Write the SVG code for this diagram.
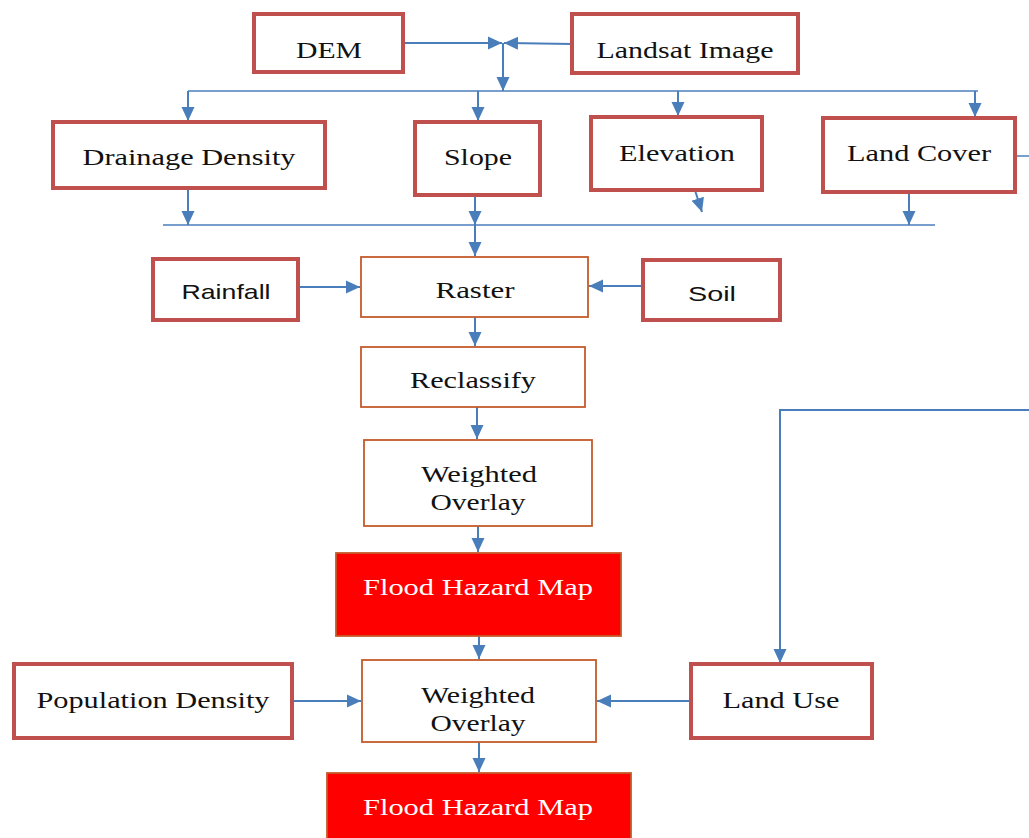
<svg xmlns="http://www.w3.org/2000/svg" width="1029" height="838" viewBox="0 0 1029 838">
<style>
.rb{fill:#fff;stroke:#C0504D;stroke-width:4}
.ob{fill:#fff;stroke:#C55A2B;stroke-width:1.8}
.fb{fill:#FF0000;stroke:#C55A2B;stroke-width:1.8}
.t{font-family:"Liberation Serif","Times New Roman",serif;font-size:24px;fill:#111;text-anchor:middle}
.s{font-family:"Liberation Sans",Arial,sans-serif;font-size:21px;fill:#111;text-anchor:middle}
.w{fill:#fff}
.c{stroke:#4A7EBB;stroke-width:2;fill:none}
.h{stroke:#4A7EBB;stroke-width:1.5;fill:none}
</style>
<defs>
<marker id="a" markerUnits="userSpaceOnUse" markerWidth="16" markerHeight="16" viewBox="0 0 16 16" refX="14" refY="8" orient="auto">
<path d="M0,1.5 L14,8 L0,14.5 Z" fill="#4A7EBB"/>
</marker>
</defs>
<rect width="1029" height="838" fill="#fff"/>
<g id="connectors">
<line class="c" x1="403" y1="43" x2="502" y2="43" marker-end="url(#a)"/>
<line class="c" x1="572" y1="44" x2="504" y2="43" marker-end="url(#a)"/>
<line class="c" x1="503" y1="43" x2="503" y2="91" marker-end="url(#a)"/>
<line class="h" x1="188" y1="91" x2="978" y2="91"/>
<line class="c" x1="188" y1="91" x2="188" y2="121" marker-end="url(#a)"/>
<line class="c" x1="478" y1="91" x2="478" y2="121" marker-end="url(#a)"/>
<line class="c" x1="678" y1="91" x2="678" y2="116" marker-end="url(#a)"/>
<line class="c" x1="975" y1="91" x2="975" y2="117" marker-end="url(#a)"/>
<line class="c" x1="188" y1="188" x2="188" y2="225" marker-end="url(#a)"/>
<line class="c" x1="475" y1="195" x2="475" y2="225" marker-end="url(#a)"/>
<line class="c" x1="692" y1="181" x2="702" y2="212" marker-end="url(#a)"/>
<line class="c" x1="909" y1="192" x2="909" y2="225" marker-end="url(#a)"/>
<line class="h" x1="163" y1="225" x2="935" y2="225"/>
<line class="h" x1="1015" y1="156" x2="1029" y2="156"/>
<line class="c" x1="475" y1="225" x2="475" y2="256" marker-end="url(#a)"/>
<line class="c" x1="298" y1="287" x2="360" y2="287" marker-end="url(#a)"/>
<line class="c" x1="643" y1="286" x2="589" y2="286" marker-end="url(#a)"/>
<line class="c" x1="475" y1="317" x2="475" y2="346" marker-end="url(#a)"/>
<line class="c" x1="477" y1="407" x2="477" y2="439" marker-end="url(#a)"/>
<line class="c" x1="478" y1="526" x2="478" y2="552" marker-end="url(#a)"/>
<line class="c" x1="479" y1="636" x2="479" y2="659" marker-end="url(#a)"/>
<polyline class="c" points="1029,410 780,410 780,663" marker-end="url(#a)"/>
<line class="c" x1="292" y1="701" x2="361" y2="701" marker-end="url(#a)"/>
<line class="c" x1="691" y1="701" x2="597" y2="701" marker-end="url(#a)"/>
<line class="c" x1="479" y1="742" x2="479" y2="772" marker-end="url(#a)"/>
</g>
<g id="dem"><rect class="rb" x="254" y="14" width="149" height="58"/><text class="t" x="329" y="58" textLength="66" lengthAdjust="spacingAndGlyphs">DEM</text></g>
<g id="landsat"><rect class="rb" x="572" y="14" width="226" height="59"/><text class="t" x="685" y="58" textLength="177" lengthAdjust="spacingAndGlyphs">Landsat Image</text></g>
<g id="drainage"><rect class="rb" x="53" y="122" width="272" height="66"/><text class="t" x="189" y="165" textLength="213" lengthAdjust="spacingAndGlyphs">Drainage Density</text></g>
<g id="slope"><rect class="rb" x="415" y="122" width="125" height="73"/><text class="t" x="478" y="165" textLength="68" lengthAdjust="spacingAndGlyphs">Slope</text></g>
<g id="elevation"><rect class="rb" x="591" y="117" width="171" height="73"/><text class="t" x="677" y="161" textLength="116" lengthAdjust="spacingAndGlyphs">Elevation</text></g>
<g id="landcover"><rect class="rb" x="823" y="118" width="192" height="74"/><text class="t" x="919" y="161" textLength="144" lengthAdjust="spacingAndGlyphs">Land Cover</text></g>
<g id="rainfall"><rect class="rb" x="153" y="259" width="145" height="61"/><text class="s" x="226" y="299" textLength="89" lengthAdjust="spacingAndGlyphs">Rainfall</text></g>
<g id="raster"><rect class="ob" x="361" y="257" width="227" height="60"/><text class="t" x="475" y="298" textLength="79" lengthAdjust="spacingAndGlyphs">Raster</text></g>
<g id="soil"><rect class="rb" x="643" y="260" width="137" height="60"/><text class="s" x="712" y="301" textLength="48" lengthAdjust="spacingAndGlyphs">Soil</text></g>
<g id="reclassify"><rect class="ob" x="361" y="347" width="224" height="60"/><text class="t" x="473" y="388" textLength="126" lengthAdjust="spacingAndGlyphs">Reclassify</text></g>
<g id="overlay1"><rect class="ob" x="364" y="440" width="228" height="86"/><text class="t" x="479" y="482" textLength="116" lengthAdjust="spacingAndGlyphs">Weighted</text><text class="t" x="478" y="510" textLength="95" lengthAdjust="spacingAndGlyphs">Overlay</text></g>
<g id="hazard1"><rect class="fb" x="336" y="553" width="285" height="83"/><text class="t w" x="478" y="595" textLength="230" lengthAdjust="spacingAndGlyphs">Flood Hazard Map</text></g>
<g id="population"><rect class="rb" x="14" y="664" width="278" height="74"/><text class="t" x="153" y="708" textLength="233" lengthAdjust="spacingAndGlyphs">Population Density</text></g>
<g id="overlay2"><rect class="ob" x="362" y="660" width="234" height="82"/><text class="t" x="478" y="703" textLength="114" lengthAdjust="spacingAndGlyphs">Weighted</text><text class="t" x="478" y="731" textLength="95" lengthAdjust="spacingAndGlyphs">Overlay</text></g>
<g id="landuse"><rect class="rb" x="691" y="664" width="181" height="74"/><text class="t" x="781" y="708" textLength="117" lengthAdjust="spacingAndGlyphs">Land Use</text></g>
<g id="hazard2"><rect class="fb" x="327" y="773" width="304" height="80"/><text class="t w" x="478" y="815" textLength="230" lengthAdjust="spacingAndGlyphs">Flood Hazard Map</text></g>
</svg>
